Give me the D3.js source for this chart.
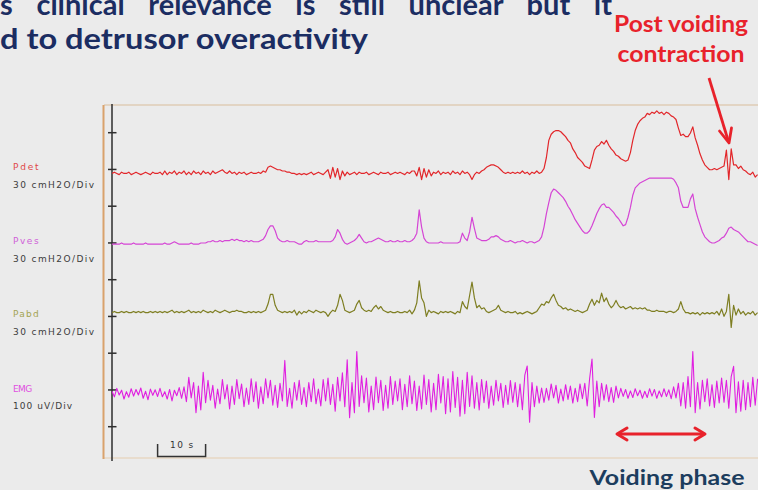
<!DOCTYPE html>
<html><head><meta charset="utf-8">
<script src="https://cdn.jsdelivr.net/npm/d3@7/dist/d3.min.js"></script>
<style>html,body{margin:0;padding:0;background:#ebebeb;overflow:hidden}</style>
</head><body><svg id="c" width="758" height="490"></svg>
<script>
// ---- data ----
const channels = ["Pdet", "Pves", "Pabd", "EMG"];
const unitLabels = ["30 cmH2O/Div", "30 cmH2O/Div", "30 cmH2O/Div", "100 uV/Div"];
const unitsPerDiv = [30, 30, 30, 100];
const sampleStep = 0.5; // seconds between samples
const divTicks = [0, 1, 2, 3, 4, 5, 6, 7, 8];
const scaleBarSeconds = 10;

// Pdet (cmH2O)
const pdet = [
7,8,7,6,8,7,7,8,6,7, 8,7,6,7,8,7,6,8,7,7, 8,6,9,6,8,7,9,6,8,7, 9,6,8,6,9,7,8,6,9,7,
8,6,9,7,8,9,10,8,7,9, 7,8,6,8,7,8,6,7,8,7, 7,8,7,9,8,12,13,12,11,10, 10,9,9,8,8,7,7,6,7,6,
7,6,7,8,6,7,8,7,6,8, 10,3,12,4,11,2,9,5,8,6, 7,8,6,8,7,7,8,6,7,8, 7,6,8,7,7,8,6,7,8,7,
8,7,6,8,7,9,9,5,12,2, 11,4,10,5,8,7,9,6,8,7, 8,6,9,7,8,6,9,7,8,6, 2,6,8,7,9,10,12,13,14,14,
13,12,10,8,7,8,7,8,7,8, 7,9,7,8,6,8,7,9,7,8, 11,20,34,39,41,42,42,41,39,37, 34,32,27,24,20,18,16,13,12,11,
18,26,29,30,33,31,34,30,27,25, 22,21,19,18,17,18,24,34,42,47, 50,52,53,56,55,57,56,58,56,57,
55,57,56,54,53,51,44,38,39,37, 37,40,45,36,30,23,18,14,12,10, 10,11,10,11,12,13,26,2,27,14,
14,11,13,10,9,7,6,8,4,6
];
// Pves (cmH2O)
const pves = [
8,8,8,8,9,8,8,8,8,9, 8,8,8,8,9,8,8,8,8,8, 8,8,9,8,8,9,10,9,8,8, 8,8,8,9,8,8,8,9,9,9,
10,10,11,10,10,11,10,11,11,11, 12,11,12,11,11,10,11,10,11,10, 10,10,11,12,15,20,23,23,19,13, 11,10,10,11,10,10,10,9,8,8,
10,11,10,10,10,11,10,10,10,10, 10,10,11,14,20,17,12,9,8,9, 10,11,13,16,13,10,9,10,10,11, 12,13,12,11,10,10,11,10,10,11,
10,10,11,10,10,11,13,17,36,22, 13,10,9,9,9,9,9,10,9,9, 9,9,9,9,9,10,17,13,11,18, 30,21,13,12,11,11,11,12,14,14,
15,14,12,11,10,10,11,10,9,10, 10,11,10,9,10,10,9,10,11,14, 22,33,42,50,53,52,50,48,46,43, 39,36,32,28,25,22,19,17,17,19,
23,28,33,37,40,41,38,38,36,34, 31,29,26,23,24,30,38,48,54,56, 58,59,60,61,62,62,62,62,62,62,
62,62,62,62,61,58,54,43,38,38, 38,45,49,37,30,24,18,14,12,10, 9,9,10,11,13,14,17,21,22,20,
19,18,16,14,12,10,10,9,8,7
];
// Pabd (cmH2O)
const pabd = [
6,7,6,6,7,6,7,6,6,7, 6,7,6,7,6,6,7,6,7,6, 7,6,7,6,7,8,6,7,6,7, 6,7,8,6,7,6,7,6,8,7,
6,7,6,8,7,6,7,8,7,6, 7,7,8,7,7,6,6,7,6,7, 6,7,6,7,8,13,21,21,12,8, 7,6,7,6,7,6,8,4,7,5,
7,6,8,7,6,8,7,6,7,6, 3,6,8,7,12,21,16,8,7,6, 7,8,13,16,10,8,7,8,7,10, 12,9,11,8,7,6,7,6,6,7,
6,6,7,6,8,5,8,14,32,18, 14,3,8,6,7,6,5,7,6,7, 6,7,6,5,7,6,15,11,9,20, 31,18,10,12,9,10,7,6,7,8,
9,12,8,7,6,7,6,6,7,5, 6,5,6,7,6,5,6,7,10,13, 12,15,14,18,21,16,12,11,9,10, 8,9,8,7,8,7,6,7,8,13,
17,12,16,14,22,15,18,13,10,12, 16,12,10,11,9,10,11,9,10,9, 10,9,10,8,8,7,7,8,7,7,
7,6,7,7,6,7,9,15,9,6, 6,5,6,5,6,4,6,5,6,5, 6,5,7,4,9,3,7,21,-6,12,
4,9,5,7,4,6,5,7,4,6
];
// EMG (uV)
const emg = [
6,-9,14,-4,9,-15,5,-10,13,-7, 11,-4,15,-13,6,-17,12,-5,10,-8, 14,-9,5,-15,11,-20,9,-6,16,-13,
18,-22,44,-12,30,-52,20,-45,58,-25, 36,-18,22,-40,12,-28,38,-15,24,-42, 20,-30,38,-14,26,-36,15,-30,40,-22,
32,-40,18,-28,40,-12,36,-32,22,-38, 28,-20,90,-35,14,-40,30,-18,36,-30, 16,-36,30,-22,40,-28,12,-34,38,-20,
42,-30,25,-48,44,-20,56,-36,92,-66, 30,-52,114,-35,48,-25,42,-50,20,-44, 45,-25,36,-46,22,-40,46,-30,34,-20,
40,-44,25,-36,48,-28,34,-46,20,-42, 50,-30,38,-50,28,-44,52,-26,46,-55, 40,-50,60,-38,44,-62,36,-55,58,-35,
48,-40,30,-45,38,-25,34,-40,20,-32, 36,-20,28,-38,22,-30,35,-24,30,-36, 26,-44,50,75,-78,30,-36,20,-26,15,
-24,14,-18,26,-12,22,-26,12,-20,24, -16,20,-26,14,-22,26,-14,28,-34,40, 94,-65,34,-36,28,-18,24,-22,16,-24,
20,-12,14,-8,11,-13,7,-11,13,-6, 9,-13,6,-11,13,-7,11,-13,7,-9, 13,-8,10,-14,18,-12,28,-34,30,-40,
46,-36,114,-52,30,-42,36,-22,40,-34, 24,-38,34,-26,42,-24,36,-40,46,74, -52,32,-48,36,-44,30,-36,44,-32,40
];
const series = [pdet, pves, pabd, emg];

// ---- layout / style ----
const traceColors = ["#e2262a", "#d545d5", "#7e7e22", "#e01fe0"];
const labelColors = ["#e04848", "#d060d8", "#a3a352", "#e050e0"];
const zeroY = [182, 254, 320, 393.5];
const labelY = [170, 244, 317, 391.5];
const divPx = (426.7 - 132.7) / 8;

const svg = d3.select("#c");
const W = 758, H = 490;
svg.append("rect").attr("width", W).attr("height", H).attr("fill", "#ebebeb");

const x = d3.scaleLinear().domain([0, 135]).range([112, 760]);
const yDiv = d3.scaleLinear().domain([0, 8]).range([132.7, 426.7]);

// Title text (cut at top)
const titleFont = "Lato, 'Open Sans', sans-serif";
const t1 = svg.append("text").attr("x", 0).attr("y", 15)
  .attr("font-family", titleFont).attr("font-weight", 700).attr("font-size", 29)
  .attr("fill", "#1b2d62")
  .text("s clinical relevance is still unclear but it");
const nat1 = t1.node().getComputedTextLength();
t1.attr("word-spacing", Math.max(0, (612 - nat1) / 7));
svg.append("text").attr("x", 0).attr("y", 49)
  .attr("font-family", titleFont).attr("font-weight", 700).attr("font-size", 29)
  .attr("fill", "#1b2d62").attr("textLength", 368).attr("lengthAdjust", "spacingAndGlyphs")
  .text("d to detrusor overactivity");

// Post voiding annotation
svg.append("text").attr("x", 681).attr("y", 31.5).attr("text-anchor", "middle")
  .attr("font-family", titleFont).attr("font-weight", 700).attr("font-size", 22)
  .attr("fill", "#e8222b").attr("textLength", 134).attr("lengthAdjust", "spacingAndGlyphs")
  .text("Post voiding");
svg.append("text").attr("x", 681).attr("y", 61.5).attr("text-anchor", "middle")
  .attr("font-family", titleFont).attr("font-weight", 700).attr("font-size", 22)
  .attr("fill", "#e8222b").attr("textLength", 127).attr("lengthAdjust", "spacingAndGlyphs")
  .text("contraction");

// chart frame
const frame = svg.append("g");
frame.append("line").attr("x1", 104).attr("x2", W).attr("y1", 105).attr("y2", 105)
  .attr("stroke", "#e2d4c3").attr("stroke-width", 2);
frame.append("line").attr("x1", 104).attr("x2", W).attr("y1", 458).attr("y2", 458)
  .attr("stroke", "#e8dccd").attr("stroke-width", 2);
frame.append("line").attr("x1", 103.5).attr("x2", 103.5).attr("y1", 105).attr("y2", 459)
  .attr("stroke", "#d9a26c").attr("stroke-width", 2);
frame.append("line").attr("x1", 112).attr("x2", 112).attr("y1", 104).attr("y2", 461)
  .attr("stroke", "#2e2e2e").attr("stroke-width", 1.5);
frame.selectAll("line.tick").data(divTicks).enter().append("line").attr("class", "tick")
  .attr("x1", 108).attr("x2", 116.5)
  .attr("y1", d => yDiv(d)).attr("y2", d => yDiv(d))
  .attr("stroke", "#2e2e2e").attr("stroke-width", 1.5);

// channel labels
const labFont = "'DejaVu Sans', sans-serif";
channels.forEach((c, k) => {
  svg.append("text").attr("x", 13).attr("y", labelY[k])
    .attr("font-family", labFont).attr("font-size", 9).attr("fill", labelColors[k])
    .attr("textLength", c.length * 6.4).attr("lengthAdjust", "spacing").text(c);
  svg.append("text").attr("x", 13).attr("y", labelY[k] + 17.5)
    .attr("font-family", labFont).attr("font-size", 9).attr("fill", "#3c3c3c")
    .attr("textLength", k === 3 ? 59 : 81).attr("lengthAdjust", "spacing").text(unitLabels[k]);
});

// traces
const clip = svg.append("defs").append("clipPath").attr("id", "cl");
clip.append("rect").attr("x", 112).attr("y", 95).attr("width", W - 112).attr("height", 370);
const traces = svg.append("g").attr("clip-path", "url(#cl)");
series.forEach((arr, k) => {
  const y = d3.scaleLinear().domain([0, unitsPerDiv[k]]).range([zeroY[k], zeroY[k] - divPx]);
  const line = d3.line().x((d, i) => x(i * sampleStep)).y(d => y(d));
  traces.append("path").datum(arr).attr("d", line)
    .attr("fill", "none").attr("stroke", traceColors[k])
    .attr("stroke-width", k === 3 ? 1.1 : 1.2).attr("stroke-linejoin", "round");
});

// scale bar
const sb0 = x(9.5), sb1 = x(9.5 + scaleBarSeconds);
svg.append("path").attr("d", `M${sb0},444 V456.5 H${sb1} V444`)
  .attr("fill", "none").attr("stroke", "#333").attr("stroke-width", 1.5);
svg.append("text").attr("x", (sb0 + sb1) / 2).attr("y", 448).attr("text-anchor", "middle")
  .attr("font-family", labFont).attr("font-size", 9).attr("fill", "#333")
  .attr("textLength", 23).attr("lengthAdjust", "spacing").text(scaleBarSeconds + " s");

// arrows
const red = "#e8222b";
svg.append("line").attr("x1", 709).attr("y1", 78).attr("x2", 728).attr("y2", 140)
  .attr("stroke", red).attr("stroke-width", 2.8);
svg.append("path").attr("d", "M719.5,131 L729,143 L731.5,128")
  .attr("fill", "none").attr("stroke", red).attr("stroke-width", 2.8)
  .attr("stroke-linecap", "round").attr("stroke-linejoin", "round");
svg.append("line").attr("x1", 618).attr("y1", 434).attr("x2", 704).attr("y2", 434)
  .attr("stroke", red).attr("stroke-width", 3);
svg.append("path").attr("d", "M627,428 L617,434 L627,440 M695,428 L705,434 L695,440")
  .attr("fill", "none").attr("stroke", red).attr("stroke-width", 3)
  .attr("stroke-linecap", "round").attr("stroke-linejoin", "round");

svg.append("text").attr("x", 667).attr("y", 484.5).attr("text-anchor", "middle")
  .attr("font-family", titleFont).attr("font-weight", 700).attr("font-size", 21)
  .attr("fill", "#1c3d5e").attr("textLength", 155).attr("lengthAdjust", "spacingAndGlyphs")
  .text("Voiding phase");
</script></body></html>
